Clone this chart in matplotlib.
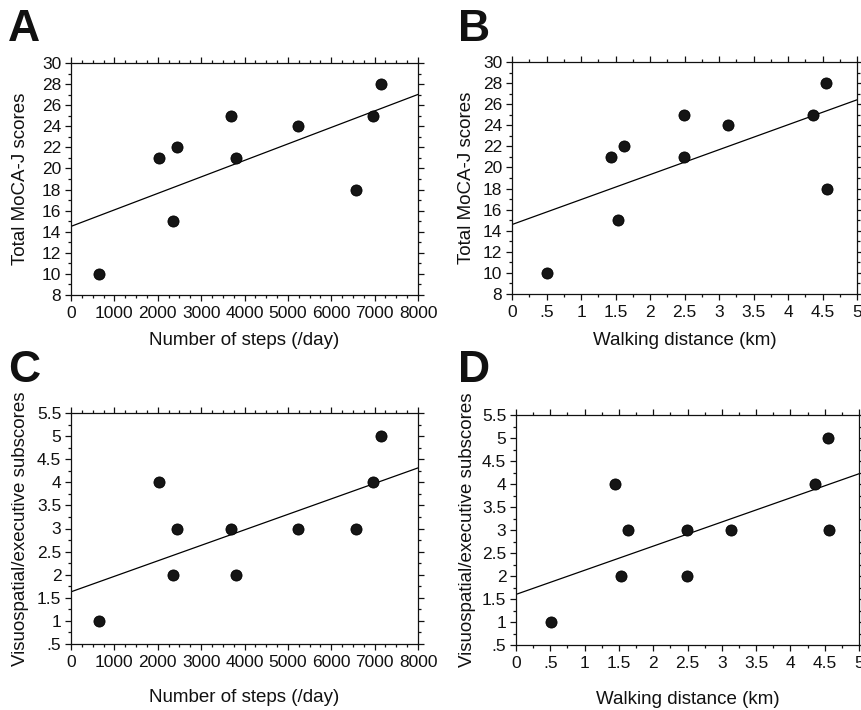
import matplotlib
matplotlib.use("Agg")
import matplotlib.pyplot as plt
import numpy as np
from matplotlib.ticker import MultipleLocator, FuncFormatter

# ---- data ----
steps = [650, 2020, 2350, 2450, 3680, 3800, 5230, 6580, 6970, 7150]
distance = [0.51, 1.44, 1.53, 1.63, 2.49, 2.49, 3.13, 4.56, 4.36, 4.55]
moca_total = [10, 21, 15, 22, 25, 21, 24, 18, 25, 28]
visuo_exec = [1, 4, 2, 3, 3, 2, 3, 3, 4, 5]

steps_xlim = (0, 8000)
dist_xlim = (0, 5)
moca_ylim = (8, 30)
visuo_ylim = (0.5, 5.5)

xlabel_steps = "Number of steps (/day)"
xlabel_dist = "Walking distance (km)"
ylabel_moca = "Total MoCA-J scores"
ylabel_visuo = "Visuospatial/executive subscores"

plt.rcParams['font.family'] = ['Liberation Sans', 'DejaVu Sans']

W, H = 861, 710
fig = plt.figure(figsize=(W / 100, H / 100), dpi=100)


def fr(l, r, t, b):
    return [l / W, 1 - b / H, (r - l) / W, (b - t) / H]


def fmt(v, pos):
    s = "%g" % v
    if s.startswith("0."):
        s = s[1:]
    return s


panels = [
    ("A", fr(71, 418, 63, 295), steps, moca_total, steps_xlim, moca_ylim,
     1000, 250, 2, 1, xlabel_steps, ylabel_moca, -0.160, -0.121, (8, 41)),
    ("B", fr(512, 857, 62, 294), distance, moca_total, dist_xlim, moca_ylim,
     0.5, 0.25, 2, 1, xlabel_dist, ylabel_moca, -0.165, -0.107, (458, 41)),
    ("C", fr(71, 418, 413, 644), steps, visuo_exec, steps_xlim, visuo_ylim,
     1000, 250, 0.5, 0.25, xlabel_steps, ylabel_visuo, -0.193, -0.121, (8, 382)),
    ("D", fr(516, 859, 415, 645), distance, visuo_exec, dist_xlim, visuo_ylim,
     0.5, 0.25, 0.5, 0.25, xlabel_dist, ylabel_visuo, -0.199, -0.117, (458, 382)),
]

for (lab, rect, x, y, xlim, ylim, xmaj, xmin, ymaj, ymin,
     xl, yl, xly, ylx, labpos) in panels:
    ax = fig.add_axes(rect)
    x = np.asarray(x, float)
    y = np.asarray(y, float)
    ax.scatter(x, y, s=64, color="#151515", edgecolors="#000000",
               linewidths=0.6, zorder=3)
    b1, b0 = np.polyfit(x, y, 1)
    xx = np.array(xlim, float)
    ax.plot(xx, b0 + b1 * xx, color="black", lw=0.9, zorder=2)
    ax.set_xlim(*xlim)
    ax.set_ylim(*ylim)
    ax.xaxis.set_major_locator(MultipleLocator(xmaj))
    ax.xaxis.set_minor_locator(MultipleLocator(xmin))
    ax.yaxis.set_major_locator(MultipleLocator(ymaj))
    ax.yaxis.set_minor_locator(MultipleLocator(ymin))
    ax.xaxis.set_major_formatter(FuncFormatter(fmt))
    ax.yaxis.set_major_formatter(FuncFormatter(fmt))
    ax.tick_params(which="both", direction="out", top=True, right=True,
                   width=0.9, colors="#111111", labelsize=12.5)
    ax.tick_params(axis="x", which="major", pad=4)
    ax.tick_params(axis="y", which="major", pad=3)
    ax.tick_params(which="major", length=4)
    ax.tick_params(which="minor", length=2.2)
    for sp in ax.spines.values():
        sp.set_linewidth(0.9)
        sp.set_color("#111111")
    ax.set_xlabel(xl, fontsize=13.5, color="#111111")
    ax.set_ylabel(yl, fontsize=13.5, color="#111111")
    ax.xaxis.set_label_coords(0.5, xly)
    ax.yaxis.set_label_coords(ylx, 0.5)
    fig.text(labpos[0] / W, 1 - labpos[1] / H, lab, fontsize=32,
             fontweight="bold", ha="left", va="baseline", color="#111111")

fig.savefig("out.png", dpi=100)
